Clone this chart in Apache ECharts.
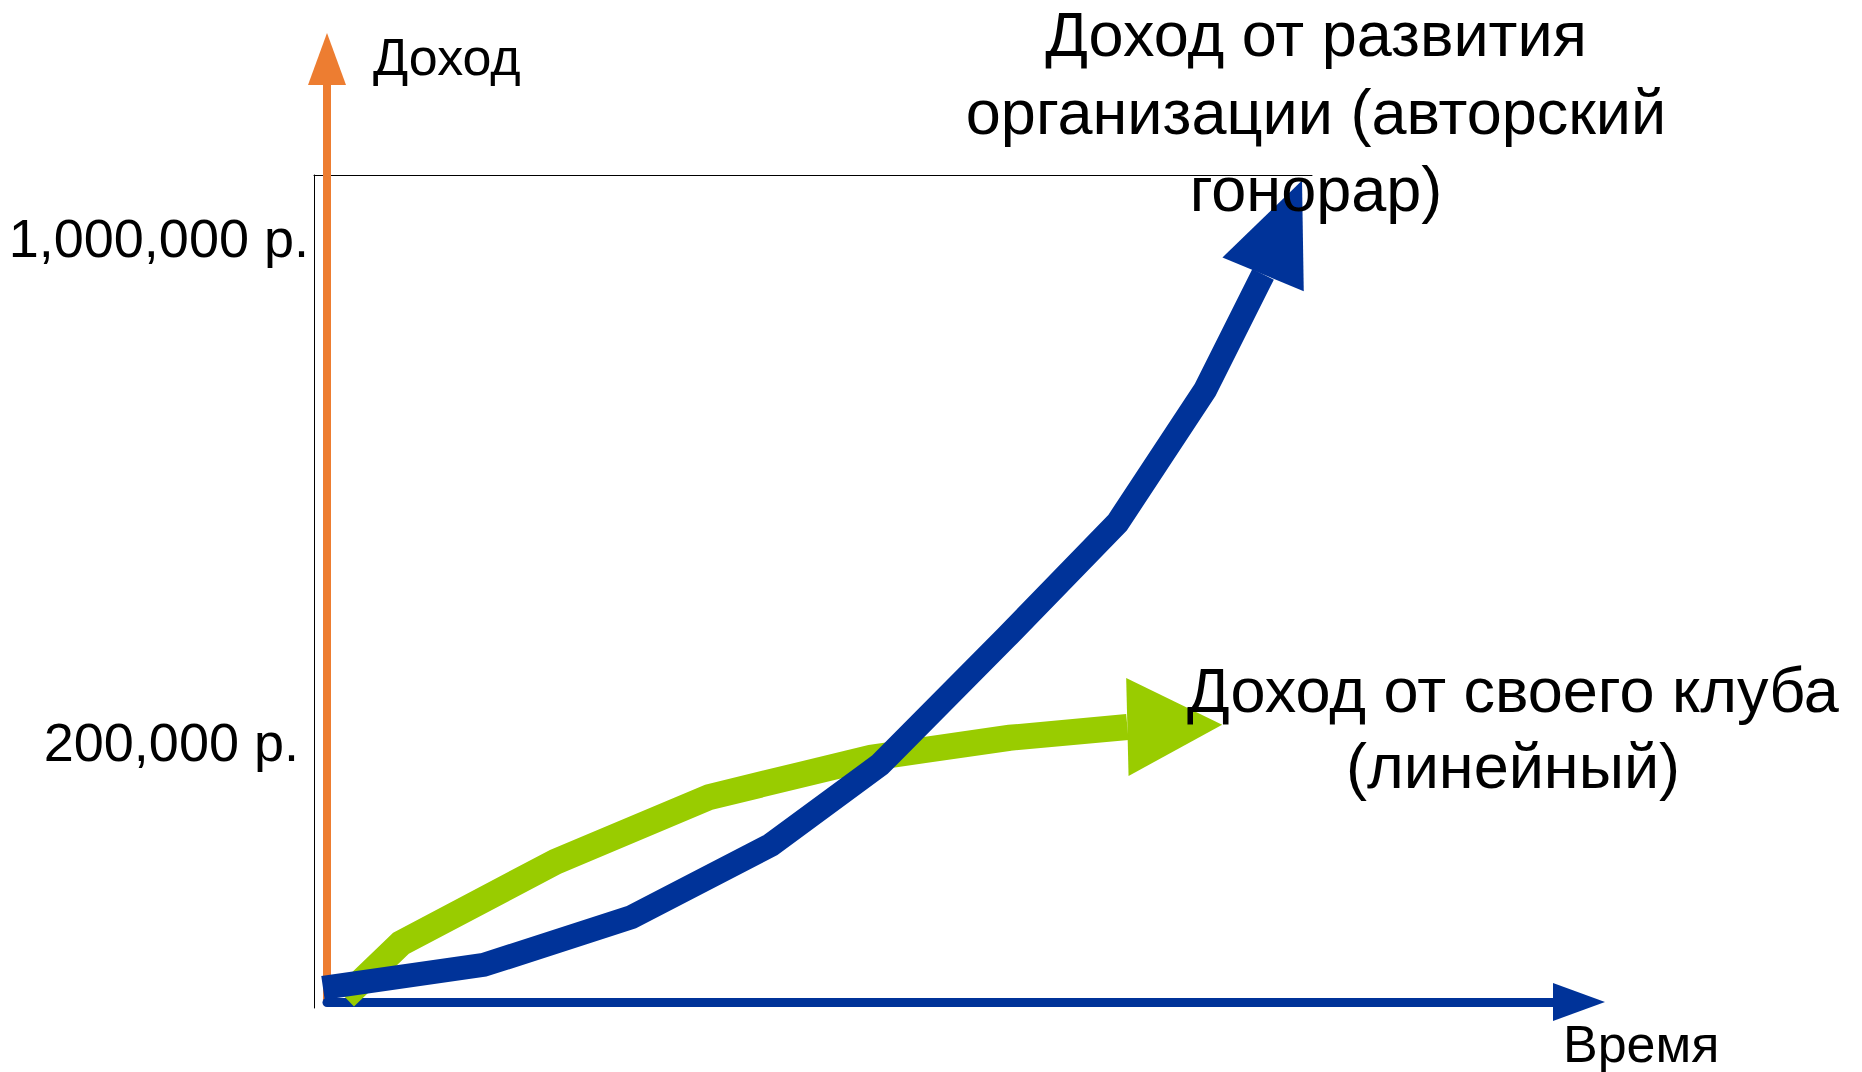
<!DOCTYPE html>
<html>
<head>
<meta charset="utf-8">
<script src="https://cdn.jsdelivr.net/npm/echarts@6/dist/echarts.min.js"></script>
<style>
html,body{margin:0;padding:0;background:#fff;}
#c{width:1862px;height:1072px;}
</style>
</head>
<body>
<div id="c"></div>
<script>
const FONT = '"Liberation Sans", Arial, Helvetica, sans-serif';

// Time axis (relative units 0..100) and income (roubles)
const timeOrg = [0.9, 17.0, 31.8, 45.8, 56.7, 69.4, 80.5, 89.3, 95.1, 99.0];
const incomeOrg = [26000, 56000, 118000, 212000, 316000, 482000, 630000, 803000, 953000, 1075000];

const timeClub = [3.1, 8.7, 24.2, 39.6, 55.8, 69.7, 81.5, 91.0];
const incomeClub = [14000, 84000, 190000, 274000, 325000, 351000, 365000, 368000];

// Y tick labels and the axis values they are anchored at
const yTickValues = [345000, 1000000];
const yTickLabels = ['200,000 р.', '1,000,000 р.'];

const axisNameY = 'Доход';
const axisNameX = 'Время';
const labelOrg = ['Доход от развития', 'организации (авторский', 'гонорар)'];
const labelClub = ['Доход от своего клуба', '(линейный)'];

const BLUE = '#003399';
const GREEN = '#99CC00';
const ORANGE = '#ED7D31';

function shaft(xs, ys) {
  const out = [];
  for (let i = 0; i < xs.length - 1; i++) out.push([xs[i], ys[i]]);
  return out;
}
function head(xs, ys) {
  const n = xs.length;
  return [[xs[n - 2], ys[n - 2], xs[n - 1], ys[n - 1]]];
}
function arrowHead(color, headWidth) {
  return function (params, api) {
    const b = api.coord([api.value(0), api.value(1)]);
    const t = api.coord([api.value(2), api.value(3)]);
    const dx = t[0] - b[0], dy = t[1] - b[1];
    const len = Math.hypot(dx, dy) || 1;
    const nx = -dy / len * headWidth / 2, ny = dx / len * headWidth / 2;
    return {
      type: 'polygon',
      shape: { points: [t, [b[0] + nx, b[1] + ny], [b[0] - nx, b[1] - ny]] },
      style: { fill: color }
    };
  };
}
function textLines(lines, cx, firstMiddle, step, size) {
  return lines.map(function (s, i) {
    return {
      type: 'text', x: cx, y: firstMiddle + i * step, z: 100, silent: true,
      style: { text: s, fill: '#000', fontSize: size, fontFamily: FONT, align: 'center', verticalAlign: 'middle' }
    };
  });
}

const chart = echarts.init(document.getElementById('c'), null, { renderer: 'svg' });

const hidden = { show: false };

const option = {
  animation: false,
  backgroundColor: '#ffffff',
  grid: [
    { left: 314, top: 175, width: 998, height: 833, containLabel: false, outerBoundsMode: 'none' },
    { left: 327, top: 59, width: 1252, height: 943, containLabel: false, outerBoundsMode: 'none' }
  ],
  xAxis: [
    {
      gridIndex: 0, type: 'value', min: 0, max: 100, position: 'top',
      axisLine: { show: true, onZero: false, lineStyle: { color: '#000', width: 1 } },
      axisTick: hidden, axisLabel: hidden, splitLine: hidden
    },
    {
      gridIndex: 1, type: 'value', min: 0, max: 1, position: 'bottom', z: 1,
      axisLine: {
        show: true, onZero: false, symbol: ['none', 'triangle'], symbolSize: [38, 52],
        lineStyle: { color: BLUE, width: 9 }
      },
      axisTick: hidden, axisLabel: hidden, splitLine: hidden
    }
  ],
  yAxis: [
    {
      gridIndex: 0, type: 'value', min: 0, max: 1082000,
      axisLine: { show: true, onZero: false, lineStyle: { color: '#000', width: 1 } },
      axisTick: hidden, splitLine: hidden,
      axisLabel: {
        show: true,
        customValues: yTickValues,
        margin: 5,
        color: '#000',
        fontSize: 54,
        fontFamily: FONT,
        formatter: function (v) {
          let idx = 0;
          for (let i = 0; i < yTickValues.length; i++) {
            if (Math.abs(yTickValues[i] - v) < Math.abs(yTickValues[idx] - v)) idx = i;
          }
          return (idx === 0 ? '{a|' : '{b|') + yTickLabels[idx] + '}';
        },
        rich: {
          a: { fontSize: 54, fontFamily: FONT, color: '#000', padding: [0, 10, 0, 0] },
          b: { fontSize: 54, fontFamily: FONT, color: '#000' }
        }
      }
    },
    {
      gridIndex: 1, type: 'value', min: 0, max: 1, z: 1,
      axisLine: {
        show: true, onZero: false, symbol: ['none', 'triangle'], symbolSize: [38, 52],
        lineStyle: { color: ORANGE, width: 8 }
      },
      axisTick: hidden, axisLabel: hidden, splitLine: hidden
    }
  ],
  series: [
    {
      name: labelClub.join(' '),
      type: 'line', xAxisIndex: 0, yAxisIndex: 0, z: 2,
      data: shaft(timeClub, incomeClub),
      showSymbol: false, symbol: 'none', silent: true, clip: false,
      lineStyle: { color: GREEN, width: 26, join: 'miter', cap: 'butt' }
    },
    {
      type: 'custom', xAxisIndex: 0, yAxisIndex: 0, z: 2, silent: true, clip: false,
      data: head(timeClub, incomeClub),
      encode: { x: [0, 2], y: [1, 3] },
      renderItem: arrowHead(GREEN, 98)
    },
    {
      name: labelOrg.join(' '),
      type: 'line', xAxisIndex: 0, yAxisIndex: 0, z: 3,
      data: shaft(timeOrg, incomeOrg),
      showSymbol: false, symbol: 'none', silent: true, clip: false,
      lineStyle: { color: BLUE, width: 24, join: 'miter', cap: 'butt' }
    },
    {
      type: 'custom', xAxisIndex: 0, yAxisIndex: 0, z: 3, silent: true, clip: false,
      data: head(timeOrg, incomeOrg),
      encode: { x: [0, 2], y: [1, 3] },
      renderItem: arrowHead(BLUE, 88)
    }
  ],
  graphic: [
    {
      type: 'text', x: 373, y: 57, z: 100, silent: true,
      style: { text: axisNameY, fill: '#000', fontSize: 52, fontFamily: FONT, align: 'left', verticalAlign: 'middle' }
    },
    {
      type: 'text', x: 1563, y: 1044, z: 100, silent: true,
      style: { text: axisNameX, fill: '#000', fontSize: 52, fontFamily: FONT, align: 'left', verticalAlign: 'middle' }
    }
  ].concat(textLines(labelOrg, 1316, 34, 77.5, 63))
   .concat(textLines(labelClub, 1513, 690, 76, 63))
};

chart.setOption(option);
</script>
</body>
</html>
